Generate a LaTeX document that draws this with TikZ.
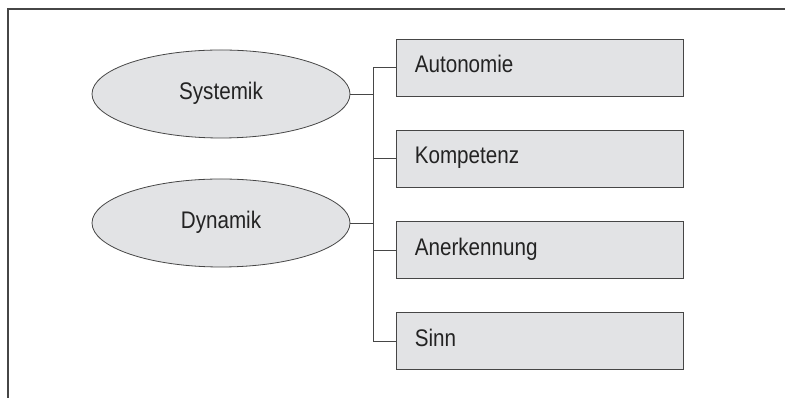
\documentclass[tikz,border=0pt]{standalone}
\usepackage{fontspec}
\setmainfont[FakeStretch=0.86]{Liberation Sans}
\usepackage{tikz}
\usetikzlibrary{positioning,shapes.geometric}

\definecolor{boxgray}{RGB}{226,227,229}
\definecolor{linegray}{RGB}{70,70,70}
\definecolor{textgray}{RGB}{35,35,35}

\begin{document}
\begin{tikzpicture}[x=1pt, y=1pt, node distance={33.5pt}, line width=0.8pt, draw=linegray,
  oval/.style = {draw=linegray, fill=boxgray, ellipse, minimum width=258pt, minimum height=88pt, inner sep=0pt, text=textgray, text height=17pt, text depth=6pt, font=\fontsize{24}{28}\selectfont},
  item/.style = {draw=linegray, fill=boxgray, rectangle, text width=251pt, inner xsep=18pt, inner ysep=0pt, minimum height=57pt, align=left, text height=17pt, text depth=7pt, text=textgray, font=\fontsize{24}{28}\selectfont}]
\useasboundingbox (0,0) rectangle (785,398);
\draw[linegray, line width=1.2pt] (8,0) -- (8,389) -- (785,389);
\node[oval] (sys) at (221,304) {Systemik};
\node[oval] (dyn) at (221,175) {Dynamik};
\node[item] (auto) at (540.3,330.5) {Autonomie};
\node[item] (kom) [below=of auto] {Kompetenz};
\node[item] (anerk) [below=of kom] {Anerkennung};
\node[item] (sinn) [below=of anerk] {Sinn};
\draw[linegray] (auto.west) -- ++(-23.4,0) coordinate (bus) |- (sinn.west);
\draw[linegray] (kom.west) -- (kom.west -| bus);
\draw[linegray] (anerk.west) -- (anerk.west -| bus);
\draw[linegray] (sys.east) -- (sys.east -| bus);
\draw[linegray] (dyn.east) -- (dyn.east -| bus);
\end{tikzpicture}
\end{document}
